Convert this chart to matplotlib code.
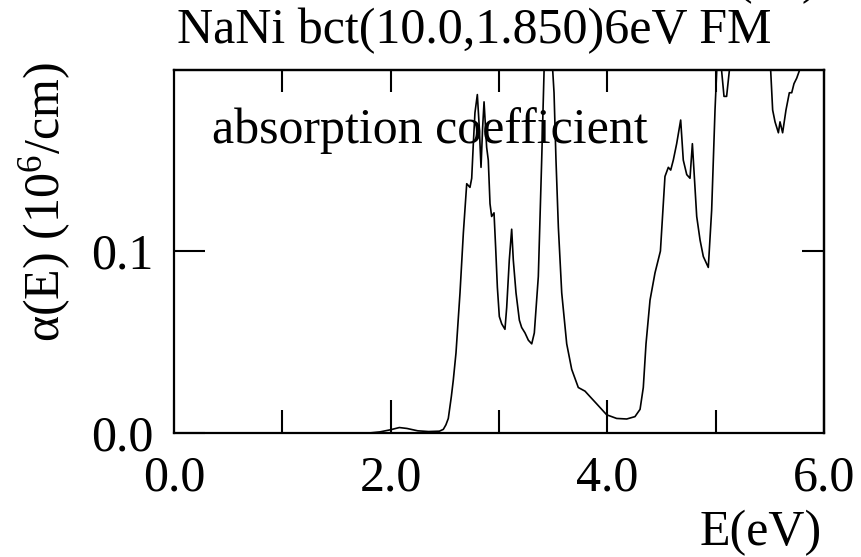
import matplotlib
matplotlib.use("Agg")
import matplotlib.pyplot as plt
from matplotlib.ticker import FixedLocator, NullFormatter

plt.rcParams['font.family'] = ['Liberation Serif', 'DejaVu Serif']
plt.rcParams['mathtext.fontset'] = 'custom'
plt.rcParams['mathtext.rm'] = 'Liberation Serif'
plt.rcParams['mathtext.it'] = 'Liberation Serif:italic'

# ---- data ----
energy = [0.0, 1.0, 1.80, 1.90, 2.00, 2.08, 2.15, 2.25, 2.35, 2.45, 2.486, 2.51, 2.532,
          2.56, 2.578, 2.603, 2.640, 2.671, 2.702, 2.732, 2.748, 2.763, 2.778, 2.800,
          2.818, 2.834, 2.849, 2.862, 2.886, 2.901, 2.917, 2.932, 2.954, 2.969, 2.985,
          3.003, 3.025, 3.055, 3.071, 3.095, 3.117, 3.132, 3.157, 3.188, 3.209, 3.240,
          3.271, 3.302, 3.326, 3.363, 3.394, 3.416, 3.44, 3.46, 3.48, 3.496, 3.508,
          3.526, 3.548, 3.579, 3.625, 3.671, 3.732, 3.794, 3.840, 3.902, 3.948, 3.994,
          4.086, 4.179, 4.255, 4.302, 4.332, 4.357, 4.394, 4.44, 4.49, 4.532, 4.563,
          4.585, 4.609, 4.640, 4.677, 4.701, 4.733, 4.763, 4.785, 4.803, 4.825, 4.856,
          4.886, 4.932, 4.963, 4.994, 5.010, 5.03, 5.045, 5.055, 5.077, 5.101, 5.126,
          5.16, 5.30, 5.45, 5.49, 5.508, 5.526, 5.548, 5.579, 5.594, 5.618, 5.649,
          5.680, 5.702, 5.723, 5.748, 5.772, 5.85, 6.0]
alpha = [0.0, 0.0, 0.0, 0.0006, 0.0018, 0.0030, 0.0025, 0.0012, 0.0008, 0.0010, 0.0020,
         0.0045, 0.008, 0.020, 0.029, 0.044, 0.077, 0.110, 0.137, 0.135, 0.140, 0.159,
         0.176, 0.186, 0.168, 0.146, 0.168, 0.182, 0.157, 0.150, 0.126, 0.119, 0.121,
         0.102, 0.080, 0.064, 0.060, 0.057, 0.069, 0.095, 0.112, 0.095, 0.077, 0.062,
         0.058, 0.055, 0.051, 0.049, 0.055, 0.086, 0.150, 0.199, 0.240, 0.255, 0.235,
         0.199, 0.187, 0.150, 0.113, 0.077, 0.049, 0.035, 0.025, 0.023, 0.020, 0.016,
         0.013, 0.010, 0.008, 0.0077, 0.009, 0.013, 0.025, 0.049, 0.073, 0.088, 0.100,
         0.141, 0.146, 0.1445, 0.150, 0.159, 0.172, 0.150, 0.142, 0.140, 0.159, 0.141,
         0.119, 0.106, 0.097, 0.091, 0.1225, 0.1775, 0.1995, 0.215, 0.205, 0.199, 0.185,
         0.185, 0.199, 0.23, 0.26, 0.24, 0.21, 0.199, 0.1775, 0.171, 0.165, 0.171,
         0.165, 0.1775, 0.187, 0.187, 0.192, 0.195, 0.199, 0.22, 0.23]

x_major = [0.0, 2.0, 4.0, 6.0]
x_minor = [1.0, 3.0, 5.0]
x_major_labels = ["0.0", "2.0", "4.0", "6.0"]
x_top_ticks = [1.0, 2.0, 3.0, 4.0, 5.0]
y_ticks = [0.0, 0.1]
y_tick_labels = ["0.0", "0.1"]

title = "NaNi bct(10.0,1.850)6eV FM"
panel_text = "absorption coefficient"
xlabel = "E(eV)"
ylabel = r"α(E) (10$^{\mathrm{6}}$/cm)"

W, H = 861, 557
fig = plt.figure(figsize=(W / 100, H / 100), dpi=100)
ax = fig.add_axes([174 / W, 1 - 433 / H, (824 - 174) / W, (433 - 70) / H])

ax.plot(energy, alpha, color='black', lw=1.2)
ax.set_xlim(0, 6)
ax.set_ylim(0, 0.1995)

for s in ax.spines.values():
    s.set_linewidth(1.6)

FS = 36
ax.xaxis.set_major_locator(FixedLocator(x_major))
ax.xaxis.set_minor_locator(FixedLocator(x_minor))
ax.set_xticklabels(x_major_labels)
ax.xaxis.set_minor_formatter(NullFormatter())
ax.yaxis.set_major_locator(FixedLocator(y_ticks))
ax.set_yticklabels(y_tick_labels)
ax.tick_params(axis='x', which='major', direction='in', length=24, width=1.5,
               labelsize=FS, pad=16, top=False)
ax.tick_params(axis='x', which='minor', direction='in', length=16.5, width=1.5, top=False)
ax.tick_params(axis='y', which='major', direction='in', length=22, width=1.5,
               labelsize=FS, pad=15, right=False)

# top / right ticks (shorter)
secx = ax.secondary_xaxis('top')
secx.xaxis.set_major_locator(FixedLocator(x_top_ticks))
secx.tick_params(direction='in', length=16, width=1.5, labeltop=False)
secx.spines['top'].set_linewidth(1.6)
secy = ax.secondary_yaxis('right')
secy.yaxis.set_major_locator(FixedLocator([0.1]))
secy.tick_params(direction='in', length=16, width=1.5, labelright=False)
secy.spines['right'].set_linewidth(1.6)

fig.text(474 / W, 1 - 43 / H, title, fontsize=FS, ha='center', va='baseline')
fig.text(212 / W, 1 - 143 / H, panel_text, fontsize=FS, ha='left', va='baseline')
fig.text(822 / W, 1 - 545 / H, xlabel, fontsize=FS, ha='right', va='baseline')
fig.text(45 / W, 1 - 202 / H, ylabel, fontsize=FS, ha='center', va='center', rotation=90)
fig.text(736 / W, 1 + 7 / H, "(xx)", fontsize=FS, ha='left', va='baseline')

fig.savefig("out.png", dpi=100)
